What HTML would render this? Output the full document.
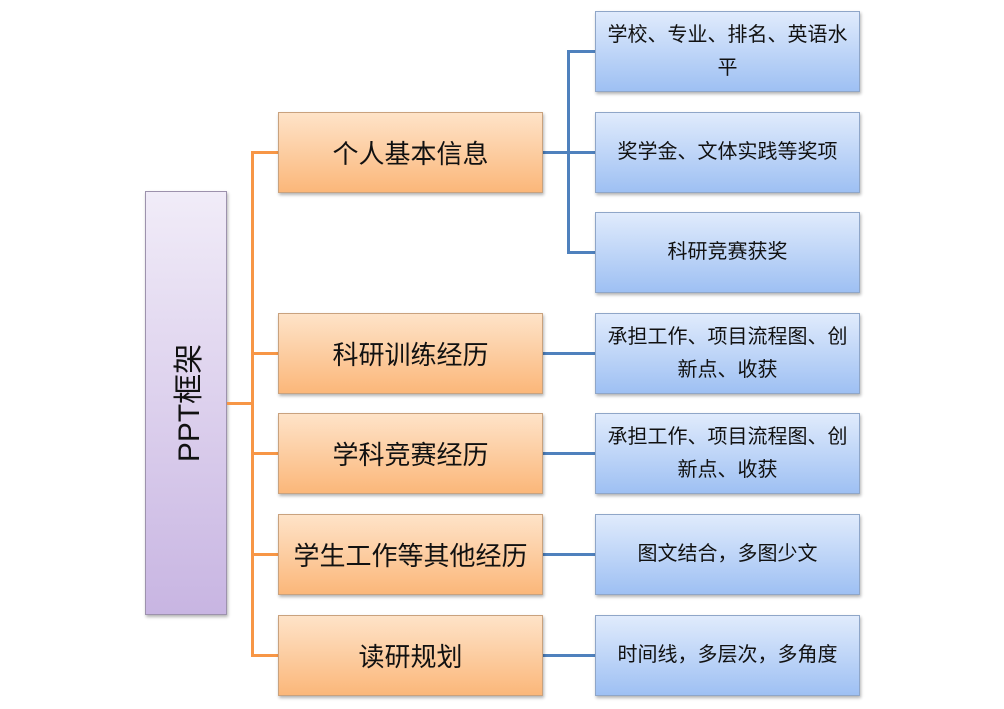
<!DOCTYPE html><html><head><meta charset="utf-8"><style>
body{margin:0;width:1004px;height:709px;background:#fff;position:relative;overflow:hidden;font-family:"Liberation Sans","Noto Sans CJK SC",sans-serif;}
.b{position:absolute;box-sizing:border-box;display:flex;align-items:center;justify-content:center;text-align:center;color:#111;box-shadow:1px 2px 3px rgba(0,0,0,.3);}
.m{left:278px;width:265px;height:81px;background:linear-gradient(#fee3c8,#fbb77a);border:1px solid #c9a27e;font-size:26px;}
.r{left:595px;width:265px;height:81px;background:linear-gradient(#e0ebfc,#9ec0f3);border:1px solid #8fa6c8;font-size:20px;line-height:33px;padding:0 6px;}
.l{position:absolute;}
.o{background:#f79646;}.u{background:#4f81bd;}
</style></head><body>
<div class="b" style="left:145px;top:191px;width:82px;height:424px;background:linear-gradient(#f1ecf8,#c8b5e2);border:1px solid #9d92ad;"><div style="transform:rotate(-90deg);white-space:nowrap;font-size:30px;">PPT框架</div></div>
<div class="l o" style="left:227px;top:402px;width:26px;height:3px"></div>
<div class="l o" style="left:251px;top:151px;width:3px;height:506px"></div>
<div class="l o" style="left:251px;top:151px;width:27px;height:3px"></div>
<div class="l o" style="left:251px;top:352px;width:27px;height:3px"></div>
<div class="l o" style="left:251px;top:452px;width:27px;height:3px"></div>
<div class="l o" style="left:251px;top:553px;width:27px;height:3px"></div>
<div class="l o" style="left:251px;top:654px;width:27px;height:3px"></div>
<div class="l u" style="left:543px;top:151px;width:26px;height:3px"></div>
<div class="l u" style="left:567px;top:50px;width:3px;height:204px"></div>
<div class="l u" style="left:567px;top:50px;width:28px;height:3px"></div>
<div class="l u" style="left:567px;top:151px;width:28px;height:3px"></div>
<div class="l u" style="left:567px;top:251px;width:28px;height:3px"></div>
<div class="l u" style="left:543px;top:352px;width:52px;height:3px"></div>
<div class="l u" style="left:543px;top:452px;width:52px;height:3px"></div>
<div class="l u" style="left:543px;top:553px;width:52px;height:3px"></div>
<div class="l u" style="left:543px;top:654px;width:52px;height:3px"></div>
<div class="b m" style="top:112px">个人基本信息</div>
<div class="b m" style="top:313px">科研训练经历</div>
<div class="b m" style="top:413px">学科竞赛经历</div>
<div class="b m" style="top:514px">学生工作等其他经历</div>
<div class="b m" style="top:615px">读研规划</div>
<div class="b r" style="top:11px">学校、专业、排名、英语水平</div>
<div class="b r" style="top:112px">奖学金、文体实践等奖项</div>
<div class="b r" style="top:212px">科研竞赛获奖</div>
<div class="b r" style="top:313px">承担工作、项目流程图、创新点、收获</div>
<div class="b r" style="top:413px">承担工作、项目流程图、创新点、收获</div>
<div class="b r" style="top:514px">图文结合，多图少文</div>
<div class="b r" style="top:615px">时间线，多层次，多角度</div>
</body></html>
